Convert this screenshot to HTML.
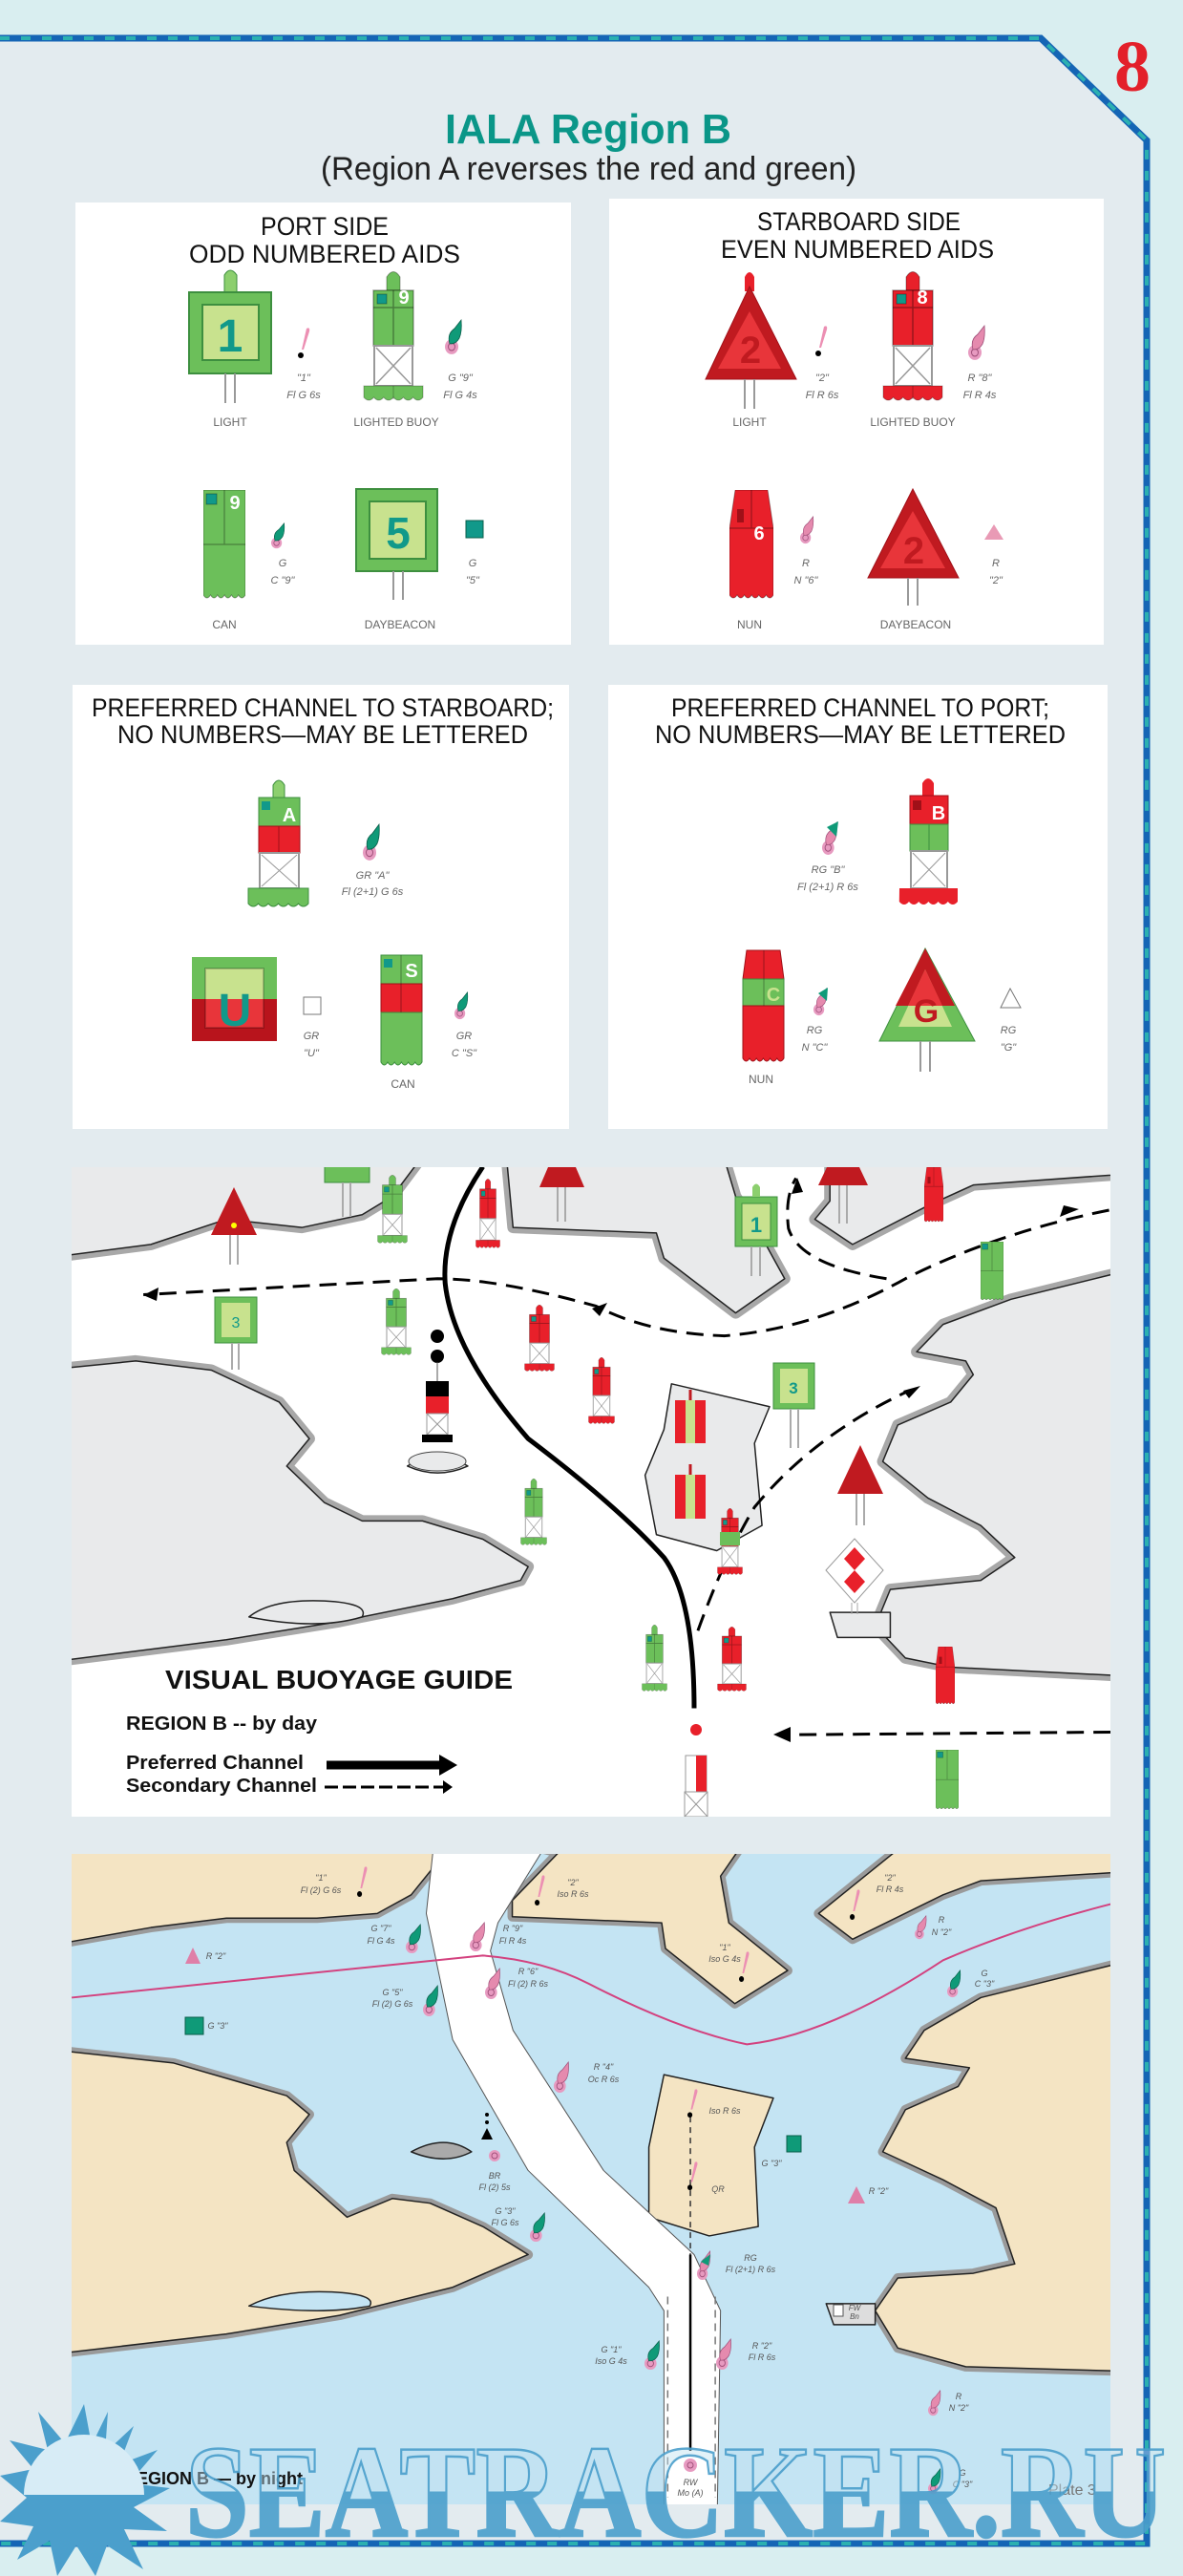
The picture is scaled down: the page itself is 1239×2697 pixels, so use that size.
<!DOCTYPE html>
<html><head><meta charset="utf-8">
<style>
html,body{margin:0;padding:0;background:#d9eef0;}
svg{display:block;}
.nar{font-family:"Liberation Sans Narrow","Liberation Sans",sans-serif;}
.lbl{font-family:"Liberation Sans Narrow","Liberation Sans",sans-serif;font-size:11px;fill:#666;font-style:italic;text-anchor:middle;}
.cap{font-family:"Liberation Sans Narrow","Liberation Sans",sans-serif;font-size:12px;fill:#666;text-anchor:middle;}
.nl{font-family:"Liberation Sans Narrow","Liberation Sans",sans-serif;font-size:9px;fill:#555;font-style:italic;text-anchor:middle;}
</style></head>
<body>
<svg width="1239" height="2697" viewBox="0 0 1239 2697" xmlns="http://www.w3.org/2000/svg">
<defs>
 <symbol id="lb" viewBox="0 0 64 140" preserveAspectRatio="none">
  <path d="M25,22 L25,8 Q32,-3 39,8 L39,22 Z" fill="currentColor" stroke="#0005"/>
  <rect x="11" y="22" width="42" height="58" fill="currentColor" stroke="#0005" stroke-width="1.5"/>
  <path d="M11,40 H53 M32,22 V80" stroke="#0005" stroke-width="1.5"/>
  <rect x="15" y="26" width="10" height="10" fill="#11998a" stroke="#0005"/>
  <rect x="12" y="80" width="40" height="42" fill="#fff" stroke="#999" stroke-width="2"/>
  <path d="M14,82 L50,120 M50,82 L14,120" stroke="#999" stroke-width="1.5"/>
  <path d="M1,122 H63 V134 q-5.2,6 -10.3,0 q-5.2,6 -10.3,0 q-5.2,6 -10.3,0 q-5.2,6 -10.3,0 q-5.2,6 -10.3,0 q-5.2,6 -10.5,0 Z" fill="currentColor" stroke="#0004"/>
  <path d="M32,122 V136" stroke="#0004"/>
 </symbol>
 <symbol id="can" viewBox="0 0 44 117" preserveAspectRatio="none">
  <path d="M0,0 H44 V110 q-3.7,6 -7.3,0 q-3.7,6 -7.3,0 q-3.7,6 -7.3,0 q-3.7,6 -7.3,0 q-3.7,6 -7.3,0 q-3.7,6 -7.5,0 Z" fill="currentColor" stroke="#0005"/>
  <path d="M0,57 H44 M22,0 V57" stroke="#0005" stroke-width="1.2"/>
  <rect x="3" y="4" width="11" height="11" fill="#11998a" stroke="#0005"/>
 </symbol>
 <symbol id="nun" viewBox="0 0 46 117" preserveAspectRatio="none">
  <path d="M6,0 H40 L46,40 V110 q-3.8,6 -7.6,0 q-3.8,6 -7.6,0 q-3.8,6 -7.6,0 q-3.8,6 -7.6,0 q-3.8,6 -7.6,0 q-3.8,6 -8,0 V40 Z" fill="currentColor" stroke="#0005"/>
  <path d="M0,40 H46 M23,0 V40" stroke="#0005" stroke-width="1.2"/>
  <rect x="8" y="20" width="7" height="14" fill="#a01018"/>
 </symbol>
 <symbol id="fishG" viewBox="0 0 20 34" preserveAspectRatio="none">
  <circle cx="7" cy="26" r="7" fill="#e79ac0"/>
  <circle cx="7" cy="26" r="3.5" fill="none" stroke="#a0507a" stroke-width="1"/>
  <path d="M5,23 Q2,14 10,9 L17,1 Q18,12 15,18 Q11,24 5,23 Z" fill="#0f9a78" stroke="#0b5f4b" stroke-width=".8"/>
 </symbol>
 <symbol id="fishR" viewBox="0 0 20 34" preserveAspectRatio="none">
  <circle cx="7" cy="26" r="7" fill="#e79ac0"/>
  <circle cx="7" cy="26" r="3.5" fill="none" stroke="#a0507a" stroke-width="1"/>
  <path d="M5,23 Q2,14 10,9 L17,1 Q18,12 15,18 Q11,24 5,23 Z" fill="#e58aae" stroke="#a0507a" stroke-width=".8"/>
 </symbol>
 <symbol id="excl" viewBox="0 0 14 34" preserveAspectRatio="none">
  <path d="M4,24 L9,2 Q13,0 12,5 L6,24 Z" fill="#ec8fb3"/>
  <circle cx="3" cy="30" r="3" fill="#000"/>
 </symbol>
 <linearGradient id="wm" x1="0" y1="0" x2="0" y2="1">
  <stop offset="0" stop-color="#bfe1f1" stop-opacity="0.5"/>
  <stop offset="0.5" stop-color="#bfe1f1" stop-opacity="0.5"/>
  <stop offset="0.5" stop-color="#4b9fcc"/>
  <stop offset="1" stop-color="#4b9fcc"/>
 </linearGradient>
 <clipPath id="cday"><rect x="75" y="1222" width="1088" height="680"/></clipPath>
 <clipPath id="cnight"><rect x="75" y="1941" width="1088" height="681"/></clipPath>
</defs>

<rect x="0" y="0" width="1239" height="2697" fill="#d9eef0"/>
<path d="M0,40 H1090 L1201,147 V2663 H0 Z" fill="#e3ebef"/>
<path d="M0,40 H1090 L1201,147 V2663 H0" fill="none" stroke="#1565b5" stroke-width="7"/>
<path d="M0,40 H1090 L1201,147 V2663 H0" fill="none" stroke="#2bb0b0" stroke-width="4" stroke-dasharray="10 12"/>
<text x="1186" y="95" font-family="Liberation Serif,serif" font-weight="bold" font-size="76" fill="#e3202a" text-anchor="middle">8</text>

<text x="466" y="150" font-family="Liberation Sans,sans-serif" font-weight="bold" font-size="44" fill="#0a9688" textLength="300" lengthAdjust="spacingAndGlyphs">IALA Region B</text>
<text x="336" y="188" class="nar" font-size="34" fill="#222" textLength="561" lengthAdjust="spacingAndGlyphs">(Region A reverses the red and green)</text>

<rect x="79" y="212" width="519" height="463" fill="#fff"/>
<rect x="638" y="208" width="518" height="467" fill="#fff"/>
<rect x="76" y="717" width="520" height="465" fill="#fff"/>
<rect x="637" y="717" width="523" height="465" fill="#fff"/>

<g class="nar" font-size="27" fill="#111" lengthAdjust="spacingAndGlyphs">
 <text x="273" y="246" textLength="134" lengthAdjust="spacingAndGlyphs">PORT SIDE</text>
 <text x="198" y="275" textLength="284" lengthAdjust="spacingAndGlyphs">ODD NUMBERED AIDS</text>
 <text x="793" y="241" textLength="213" lengthAdjust="spacingAndGlyphs">STARBOARD SIDE</text>
 <text x="755" y="270" textLength="286" lengthAdjust="spacingAndGlyphs">EVEN NUMBERED AIDS</text>
 <text x="96" y="750" textLength="484" lengthAdjust="spacingAndGlyphs">PREFERRED CHANNEL TO STARBOARD;</text>
 <text x="123" y="778" textLength="430" lengthAdjust="spacingAndGlyphs">NO NUMBERS—MAY BE LETTERED</text>
 <text x="703" y="750" textLength="396" lengthAdjust="spacingAndGlyphs">PREFERRED CHANNEL TO PORT;</text>
 <text x="686" y="778" textLength="430" lengthAdjust="spacingAndGlyphs">NO NUMBERS—MAY BE LETTERED</text>
</g>

<!-- PORT panel -->
<path d="M235,306 V288 Q241,278 248,288 V306 Z" fill="#8ccf6e" stroke="#3d8f3f"/>
<rect x="198" y="306" width="86" height="85" fill="#6cbf5a" stroke="#3d8f3f" stroke-width="2"/>
<rect x="212" y="319" width="59" height="58" fill="#c8e28e" stroke="#3d8f3f" stroke-width="2"/>
<text x="241" y="368" font-family="Liberation Sans,sans-serif" font-weight="bold" font-size="48" fill="#11998a" text-anchor="middle">1</text>
<path d="M236,391 V422 M246,391 V422" stroke="#999" stroke-width="2"/>
<text x="241" y="446" class="cap">LIGHT</text>
<use href="#excl" x="312" y="342" width="14" height="34"/>
<text x="318" y="399" class="lbl">"1"</text><text x="318" y="417" class="lbl">Fl G 6s</text>
<use href="#lb" x="380" y="282" width="64" height="140" color="#6cbf5a"/>
<text x="423" y="318" font-family="Liberation Sans,sans-serif" font-weight="bold" font-size="20" fill="#fff" text-anchor="middle">9</text>
<text x="415" y="446" class="cap">LIGHTED BUOY</text>
<use href="#fishG" x="466" y="334" width="20" height="38"/>
<text x="482" y="399" class="lbl">G "9"</text><text x="482" y="417" class="lbl">Fl G 4s</text>
<use href="#can" x="213" y="513" width="44" height="117" color="#6cbf5a"/>
<text x="246" y="533" font-family="Liberation Sans,sans-serif" font-weight="bold" font-size="20" fill="#fff" text-anchor="middle">9</text>
<text x="235" y="658" class="cap">CAN</text>
<use href="#fishG" x="284" y="547" width="16" height="28"/>
<text x="296" y="593" class="lbl">G</text><text x="296" y="611" class="lbl">C "9"</text>
<rect x="373" y="512" width="85" height="86" fill="#6cbf5a" stroke="#3d8f3f" stroke-width="2"/>
<rect x="387" y="525" width="59" height="60" fill="#c8e28e" stroke="#3d8f3f" stroke-width="2"/>
<text x="417" y="574" font-family="Liberation Sans,sans-serif" font-weight="bold" font-size="46" fill="#11998a" text-anchor="middle">5</text>
<path d="M412,598 V628 M422,598 V628" stroke="#999" stroke-width="2"/>
<text x="419" y="658" class="cap">DAYBEACON</text>
<rect x="488" y="545" width="18" height="18" fill="#11998a" stroke="#0b5f4b"/>
<text x="495" y="593" class="lbl">G</text><text x="495" y="611" class="lbl">"5"</text>

<!-- STARBOARD panel -->
<path d="M780,305 V290 Q785,280 790,290 V305 Z" fill="#e8202a"/>
<path d="M785,300 L834,397 L739,397 Z" fill="#c01a20" stroke="#a01018"/>
<path d="M785,326 L818,386 L752,386 Z" fill="#e8353a"/>
<text x="786" y="380" font-family="Liberation Sans,sans-serif" font-weight="bold" font-size="40" fill="#c01a20" text-anchor="middle">2</text>
<path d="M780,397 V428 M790,397 V428" stroke="#999" stroke-width="2"/>
<text x="785" y="446" class="cap">LIGHT</text>
<use href="#excl" x="854" y="340" width="14" height="34"/>
<text x="861" y="399" class="lbl">"2"</text><text x="861" y="417" class="lbl">Fl R 6s</text>
<use href="#lb" x="924" y="282" width="64" height="140" color="#e8202a"/>
<text x="966" y="318" font-family="Liberation Sans,sans-serif" font-weight="bold" font-size="20" fill="#fff" text-anchor="middle">8</text>
<text x="956" y="446" class="cap">LIGHTED BUOY</text>
<use href="#fishR" x="1014" y="340" width="20" height="38"/>
<text x="1026" y="399" class="lbl">R "8"</text><text x="1026" y="417" class="lbl">Fl R 4s</text>
<use href="#nun" x="764" y="513" width="46" height="117" color="#e8202a"/>
<text x="795" y="565" font-family="Liberation Sans,sans-serif" font-weight="bold" font-size="20" fill="#fff" text-anchor="middle">6</text>
<text x="785" y="658" class="cap">NUN</text>
<use href="#fishR" x="838" y="540" width="16" height="30"/>
<text x="844" y="593" class="lbl">R</text><text x="844" y="611" class="lbl">N "6"</text>
<path d="M956,512 L1004,605 L909,605 Z" fill="#c01a20" stroke="#a01018"/>
<path d="M956,535 L990,595 L922,595 Z" fill="#e8353a"/>
<text x="957" y="590" font-family="Liberation Sans,sans-serif" font-weight="bold" font-size="40" fill="#c01a20" text-anchor="middle">2</text>
<path d="M951,605 V634 M961,605 V634" stroke="#999" stroke-width="2"/>
<text x="959" y="658" class="cap">DAYBEACON</text>
<path d="M1041,549 L1051,565 L1031,565 Z" fill="#e99ab5"/>
<text x="1043" y="593" class="lbl">R</text><text x="1043" y="611" class="lbl">"2"</text>

<!-- Preferred channel to starboard -->
<path d="M286,835 V822 Q292,812 298,822 V835 Z" fill="#8ccf6e" stroke="#3d8f3f"/>
<rect x="271" y="835" width="43" height="30" fill="#6cbf5a" stroke="#3d8f3f"/>
<rect x="271" y="865" width="43" height="28" fill="#e8202a" stroke="#a01018"/>
<path d="M292,865 V893" stroke="#a01018"/>
<rect x="274" y="839" width="9" height="9" fill="#11998a"/>
<text x="303" y="860" font-family="Liberation Sans,sans-serif" font-weight="bold" font-size="20" fill="#fff" text-anchor="middle">A</text>
<rect x="272" y="893" width="41" height="37" fill="#fff" stroke="#999" stroke-width="2"/>
<path d="M274,895 L311,928 M311,895 L274,928" stroke="#999"/>
<path d="M260,930 H323 V946 q-5.25,6 -10.5,0 q-5.25,6 -10.5,0 q-5.25,6 -10.5,0 q-5.25,6 -10.5,0 q-5.25,6 -10.5,0 q-5.25,6 -10.5,0 Z" fill="#6cbf5a" stroke="#3d8f3f"/>
<use href="#fishG" x="380" y="862" width="20" height="40"/>
<text x="390" y="920" class="lbl">GR "A"</text><text x="390" y="937" class="lbl">Fl (2+1) G 6s</text>
<rect x="201" y="1002" width="89" height="44" fill="#6cbf5a"/>
<rect x="201" y="1046" width="89" height="44" fill="#b8141c"/>
<rect x="215" y="1014" width="61" height="32" fill="#c8e28e"/>
<rect x="215" y="1046" width="61" height="30" fill="#e8353a"/>
<rect x="215" y="1014" width="61" height="62" fill="none" stroke="#0003" stroke-width="2"/>
<text x="246" y="1074" font-family="Liberation Sans,sans-serif" font-weight="bold" font-size="48" fill="#11998a" text-anchor="middle">U</text>
<rect x="318" y="1044" width="18" height="18" fill="#fff" stroke="#777"/>
<text x="326" y="1088" class="lbl">GR</text><text x="326" y="1106" class="lbl">"U"</text>
<rect x="399" y="1000" width="43" height="30" fill="#6cbf5a" stroke="#3d8f3f"/>
<rect x="399" y="1030" width="43" height="30" fill="#e8202a" stroke="#a01018"/>
<path d="M399,1060 H442 V1112 q-3.6,6 -7.2,0 q-3.6,6 -7.2,0 q-3.6,6 -7.2,0 q-3.6,6 -7.2,0 q-3.6,6 -7.2,0 q-3.6,6 -7,0 Z" fill="#6cbf5a" stroke="#3d8f3f"/>
<path d="M420,1000 V1060" stroke="#0005"/>
<rect x="402" y="1004" width="9" height="9" fill="#11998a"/>
<text x="431" y="1023" font-family="Liberation Sans,sans-serif" font-weight="bold" font-size="20" fill="#fff" text-anchor="middle">S</text>
<text x="422" y="1139" class="cap">CAN</text>
<use href="#fishG" x="476" y="1038" width="16" height="30"/>
<text x="486" y="1088" class="lbl">GR</text><text x="486" y="1106" class="lbl">C "S"</text>

<!-- Preferred channel to port -->
<use href="#fishR" x="861" y="860" width="18" height="36"/>
<path d="M866,866 L878,860 L876,876 Z" fill="#0f9a78"/>
<text x="867" y="914" class="lbl">RG "B"</text><text x="867" y="932" class="lbl">Fl (2+1) R 6s</text>
<path d="M966,833 V820 Q972,810 978,820 V833 Z" fill="#e8202a"/>
<rect x="953" y="833" width="40" height="30" fill="#e8202a" stroke="#a01018"/>
<rect x="953" y="863" width="40" height="28" fill="#6cbf5a" stroke="#3d8f3f"/>
<path d="M973,863 V891" stroke="#3d8f3f"/>
<rect x="956" y="838" width="9" height="10" fill="#a01018"/>
<text x="983" y="858" font-family="Liberation Sans,sans-serif" font-weight="bold" font-size="20" fill="#fff" text-anchor="middle">B</text>
<rect x="954" y="891" width="38" height="39" fill="#fff" stroke="#999" stroke-width="2"/>
<path d="M956,893 L990,928 M990,893 L956,928" stroke="#999"/>
<path d="M942,930 H1003 V944 q-5.1,6 -10.2,0 q-5.1,6 -10.2,0 q-5.1,6 -10.2,0 q-5.1,6 -10.2,0 q-5.1,6 -10.2,0 q-5.1,6 -10.2,0 Z" fill="#e8202a"/>
<path d="M782,995 H817 L821,1025 H778 Z" fill="#e8202a" stroke="#a01018"/>
<rect x="778" y="1025" width="43" height="28" fill="#6cbf5a" stroke="#3d8f3f"/>
<path d="M778,1053 H821 V1108 q-3.6,6 -7.2,0 q-3.6,6 -7.2,0 q-3.6,6 -7.2,0 q-3.6,6 -7.2,0 q-3.6,6 -7.2,0 q-3.6,6 -7,0 Z" fill="#e8202a" stroke="#a01018"/>
<path d="M800,995 V1053" stroke="#0005"/>
<text x="810" y="1048" font-family="Liberation Sans,sans-serif" font-weight="bold" font-size="20" fill="#c8e28e" text-anchor="middle">C</text>
<text x="797" y="1134" class="cap">NUN</text>
<use href="#fishR" x="852" y="1034" width="16" height="30"/>
<path d="M857,1040 L867,1034 L866,1048 Z" fill="#0f9a78"/>
<text x="853" y="1082" class="lbl">RG</text><text x="853" y="1100" class="lbl">N "C"</text>
<path d="M969,993 L1021,1090 L921,1090 Z" fill="#6cbf5a" stroke="#3d8f3f"/>
<path d="M969,993 L1000,1053 L938,1053 Z" fill="#c01a20"/>
<path d="M969,1015 L997,1075 L941,1075 Z" fill="#c8e28e"/>
<path d="M969,1015 L987,1053 L951,1053 Z" fill="#e8353a"/>
<text x="970" y="1070" font-family="Liberation Sans,sans-serif" font-weight="bold" font-size="34" fill="#c01a20" text-anchor="middle">G</text>
<path d="M964,1090 V1122 M974,1090 V1122" stroke="#999" stroke-width="2"/>
<path d="M1058,1035 L1069,1055 L1048,1055 Z" fill="#fff" stroke="#777"/>
<text x="1056" y="1082" class="lbl">RG</text><text x="1056" y="1100" class="lbl">"G"</text>

<!-- DAY CHART -->
<g clip-path="url(#cday)">
<rect x="75" y="1222" width="1088" height="680" fill="#fff"/>
<g transform="translate(0,1200) scale(0.7902,0.4785)" fill="#e9eaeb" stroke-linejoin="round">
 <g stroke="#a8a8a8" stroke-width="12">
 <path vector-effect="non-scaling-stroke" d="M60,0 L570,0 L520,110 L480,150 L400,178 L300,160 L200,215 L60,245 Z"/>
 <path vector-effect="non-scaling-stroke" d="M670,0 L955,0 L975,110 L1000,170 L1040,290 L975,365 L880,245 L870,190 L680,178 Z"/>
 <path vector-effect="non-scaling-stroke" d="M1100,0 L1500,0 L1500,60 L1290,85 L1230,130 L1130,215 L1080,160 L1100,120 Z"/>
 <path vector-effect="non-scaling-stroke" d="M1500,270 L1340,335 L1250,390 L1215,450 L1280,470 L1290,500 L1260,560 L1190,610 L1170,690 L1230,770 L1300,830 L1345,900 L1300,950 L1180,970 L1160,1050 L1200,1120 L1260,1140 L1500,1160 Z"/>
 <path vector-effect="non-scaling-stroke" d="M60,490 L180,470 L280,490 L370,560 L410,640 L380,700 L430,780 L480,820 L560,820 L640,860 L700,920 L690,950 L600,990 L450,1040 L300,1080 L60,1130 Z"/>
 </g>
 <g stroke="#222" stroke-width="1.5">
 <path vector-effect="non-scaling-stroke" d="M60,0 L570,0 L520,110 L480,150 L400,178 L300,160 L200,215 L60,245 Z"/>
 <path vector-effect="non-scaling-stroke" d="M670,0 L955,0 L975,110 L1000,170 L1040,290 L975,365 L880,245 L870,190 L680,178 Z"/>
 <path vector-effect="non-scaling-stroke" d="M1100,0 L1500,0 L1500,60 L1290,85 L1230,130 L1130,215 L1080,160 L1100,120 Z"/>
 <path vector-effect="non-scaling-stroke" d="M1500,270 L1340,335 L1250,390 L1215,450 L1280,470 L1290,500 L1260,560 L1190,610 L1170,690 L1230,770 L1300,830 L1345,900 L1300,950 L1180,970 L1160,1050 L1200,1120 L1260,1140 L1500,1160 Z"/>
 <path vector-effect="non-scaling-stroke" d="M60,490 L180,470 L280,490 L370,560 L410,640 L380,700 L430,780 L480,820 L560,820 L640,860 L700,920 L690,950 L600,990 L450,1040 L300,1080 L60,1130 Z"/>
 <path vector-effect="non-scaling-stroke" d="M890,520 L1020,570 L1000,650 L1010,830 L950,885 L870,850 L855,720 L880,620 Z"/>
 <path vector-effect="non-scaling-stroke" d="M540,700 Q580,660 620,700 Q580,730 540,700 Z"/>
 <path vector-effect="non-scaling-stroke" d="M330,1030 Q360,990 430,995 Q490,1000 480,1030 Q420,1060 330,1030 Z"/>
 <path vector-effect="non-scaling-stroke" d="M1100,1020 H1180 V1075 H1110 Z"/>
 </g>
 <g fill="none" stroke="#000">
 <path vector-effect="non-scaling-stroke" stroke-width="5" d="M640,45 Q585,180 590,300 Q600,450 700,640 Q820,790 880,900 Q920,990 920,1230"/>
 <path vector-effect="non-scaling-stroke" stroke-width="3" stroke-dasharray="18 10" d="M1470,140 Q1320,190 1200,290 Q1080,400 960,415 Q860,410 790,350 Q660,290 580,290 L190,325"/>
 <path vector-effect="non-scaling-stroke" stroke-width="3" stroke-dasharray="18 10" d="M1175,290 Q1060,260 1045,180 Q1040,110 1055,70"/>
 <path vector-effect="non-scaling-stroke" stroke-width="3" stroke-dasharray="18 10" d="M925,1060 Q960,900 1000,790 Q1080,630 1205,535"/>
 <path vector-effect="non-scaling-stroke" stroke-width="3" stroke-dasharray="18 10" d="M1472,1282 L1040,1288"/>
 </g>
</g>
<path d="M150,1356 L166,1348 L164,1362 Z" fill="#000"/>
<path d="M620,1370 L636,1364 L628,1378 Z" fill="#000"/>
<path d="M835,1233 L829,1250 L841,1248 Z" fill="#000"/>
<path d="M1130,1266 L1110,1274 L1114,1262 Z" fill="#000"/>
<path d="M964,1451 L946,1456 L952,1464 Z" fill="#000"/>
<path d="M810,1816 L828,1808 L828,1824 Z" fill="#000"/>
<path d="M245,1243 L269,1293 L221,1293 Z" fill="#c01a20"/><circle cx="245" cy="1283" r="3" fill="#ff0"/>
<path d="M241,1293 V1324 M249,1293 V1324" stroke="#aaa" stroke-width="2"/>
<rect x="340" y="1208" width="47" height="30" fill="#6cbf5a" stroke="#3d8f3f"/>
<path d="M359,1238 V1274 M367,1238 V1274" stroke="#aaa" stroke-width="2"/>
<use href="#lb" x="395" y="1229" width="32" height="74" color="#6cbf5a"/>
<use href="#lb" x="498" y="1233" width="26" height="75" color="#e8202a"/>
<path d="M574,1222 H603 L612,1243 H565 Z" fill="#c01a20"/>
<path d="M584,1243 V1279 M592,1243 V1279" stroke="#aaa" stroke-width="2"/>
<rect x="770" y="1253" width="44" height="52" fill="#6cbf5a" stroke="#3d8f3f"/>
<rect x="777" y="1260" width="30" height="38" fill="#c8e28e" stroke="#3d8f3f"/>
<text x="792" y="1290" font-family="Liberation Sans,sans-serif" font-weight="bold" font-size="22" fill="#11998a" text-anchor="middle">1</text>
<path d="M788,1253 V1243 Q792,1236 796,1243 V1253 Z" fill="#8ccf6e"/>
<path d="M787,1305 V1336 M796,1305 V1336" stroke="#aaa" stroke-width="2"/>
<path d="M866,1222 H900 L909,1241 H857 Z" fill="#c01a20"/>
<path d="M879,1241 V1281 M887,1241 V1281" stroke="#aaa" stroke-width="2"/>
<use href="#nun" x="968" y="1222" width="20" height="59" color="#e8202a"/>
<use href="#can" x="1027" y="1300" width="24" height="63" color="#6cbf5a"/>
<rect x="225" y="1358" width="44" height="48" fill="#6cbf5a" stroke="#3d8f3f"/>
<rect x="232" y="1364" width="30" height="36" fill="#c8e28e"/>
<text x="247" y="1390" font-family="Liberation Sans,sans-serif" font-size="16" fill="#11998a" text-anchor="middle">3</text>
<path d="M243,1406 V1434 M250,1406 V1434" stroke="#aaa" stroke-width="2"/>
<use href="#lb" x="399" y="1348" width="32" height="72" color="#6cbf5a"/>
<circle cx="458" cy="1399" r="7" fill="#000"/><circle cx="458" cy="1420" r="7" fill="#000"/>
<path d="M458,1426 V1446" stroke="#555"/>
<rect x="446" y="1446" width="24" height="16" fill="#000"/>
<rect x="446" y="1462" width="24" height="18" fill="#e8202a"/>
<rect x="447" y="1480" width="22" height="22" fill="#fff" stroke="#999"/>
<path d="M447,1480 L469,1502 M469,1480 L447,1502" stroke="#999"/>
<rect x="442" y="1502" width="32" height="8" fill="#000"/>
<ellipse cx="458" cy="1530" rx="30" ry="10" fill="#e9eaeb" stroke="#444"/>
<use href="#lb" x="549" y="1365" width="32" height="72" color="#e8202a"/>
<use href="#lb" x="616" y="1420" width="28" height="72" color="#e8202a"/>
<rect x="810" y="1427" width="43" height="48" fill="#6cbf5a" stroke="#3d8f3f"/>
<rect x="817" y="1433" width="29" height="36" fill="#c8e28e"/>
<text x="831" y="1459" font-family="Liberation Sans,sans-serif" font-weight="bold" font-size="17" fill="#11998a" text-anchor="middle">3</text>
<path d="M828,1475 V1516 M836,1475 V1516" stroke="#aaa" stroke-width="2"/>
<rect x="707" y="1466" width="32" height="45" fill="#e8202a"/><rect x="718" y="1466" width="10" height="45" fill="#c8e28e"/>
<path d="M723,1455 V1466" stroke="#c01a20" stroke-width="3"/>
<rect x="707" y="1544" width="32" height="46" fill="#e8202a"/><rect x="718" y="1544" width="10" height="46" fill="#c8e28e"/>
<path d="M723,1533 V1544" stroke="#c01a20" stroke-width="3"/>
<use href="#lb" x="751" y="1578" width="27" height="72" color="#e8202a"/>
<rect x="754" y="1604" width="21" height="14" fill="#6cbf5a"/>
<path d="M901,1513 L925,1564 L877,1564 Z" fill="#c01a20"/>
<path d="M897,1564 V1597 M905,1564 V1597" stroke="#aaa" stroke-width="2"/>
<path d="M895,1611 L925,1644 L895,1678 L865,1644 Z" fill="#fff" stroke="#999"/>
<path d="M895,1620 L906,1632 L895,1644 L884,1632 Z M895,1644 L906,1656 L895,1668 L884,1656 Z" fill="#e8202a"/>
<path d="M892,1678 V1690 M898,1678 V1690" stroke="#aaa"/>
<use href="#lb" x="545" y="1547" width="28" height="72" color="#6cbf5a"/>
<use href="#lb" x="672" y="1700" width="27" height="72" color="#6cbf5a"/>
<use href="#lb" x="751" y="1702" width="31" height="70" color="#e8202a"/>
<use href="#nun" x="980" y="1724" width="20" height="62" color="#e8202a"/>
<use href="#can" x="980" y="1832" width="24" height="64" color="#6cbf5a"/>
<circle cx="729" cy="1811" r="6" fill="#e8202a"/>
<rect x="718" y="1838" width="22" height="38" fill="#fff" stroke="#999"/>
<rect x="729" y="1838" width="11" height="38" fill="#e8202a"/>
<rect x="717" y="1876" width="24" height="26" fill="#fff" stroke="#999"/>
<path d="M717,1876 L741,1902 M741,1876 L717,1902" stroke="#999"/>
<text x="173" y="1768" font-family="Liberation Sans,sans-serif" font-weight="bold" font-size="28" fill="#111" textLength="364" lengthAdjust="spacingAndGlyphs">VISUAL BUOYAGE GUIDE</text>
<text x="132" y="1811" font-family="Liberation Sans,sans-serif" font-weight="bold" font-size="20" fill="#111" textLength="200" lengthAdjust="spacingAndGlyphs">REGION B -- by day</text>
<text x="132" y="1852" font-family="Liberation Sans,sans-serif" font-weight="bold" font-size="20" fill="#111" textLength="186" lengthAdjust="spacingAndGlyphs">Preferred Channel</text>
<text x="132" y="1876" font-family="Liberation Sans,sans-serif" font-weight="bold" font-size="20" fill="#111" textLength="200" lengthAdjust="spacingAndGlyphs">Secondary Channel</text>
<path d="M342,1848 H462" stroke="#000" stroke-width="9"/>
<path d="M460,1837 L479,1848 L460,1859 Z" fill="#000"/>
<path d="M340,1871 H466" stroke="#000" stroke-width="3" stroke-dasharray="14 5"/>
<path d="M464,1864 L474,1871 L464,1878 Z" fill="#000"/>
</g>

<!-- NIGHT CHART -->
<g clip-path="url(#cnight)">
<rect x="75" y="1941" width="1088" height="681" fill="#c4e4f3"/>
<g transform="translate(0,1930) scale(0.7902,0.4892)" stroke-linejoin="round">
 <g fill="#f4e4c3" stroke="#9a9a9a" stroke-width="10">
 <path vector-effect="non-scaling-stroke" d="M60,0 L600,0 L545,110 L500,150 L420,160 L300,160 L200,180 L60,220 Z"/>
 <path vector-effect="non-scaling-stroke" d="M690,0 L985,0 L955,70 L966,170 L1044,272 L974,343 L882,225 L877,170 L679,157 L679,122 L740,20 Z"/>
 <path vector-effect="non-scaling-stroke" d="M1200,0 L1500,0 L1500,60 L1300,80 L1250,110 L1130,205 L1085,150 Z"/>
 <path vector-effect="non-scaling-stroke" d="M1500,250 L1300,330 L1225,400 L1200,460 L1285,480 L1270,520 L1200,570 L1170,660 L1250,720 L1320,780 L1345,900 L1290,920 L1190,930 L1160,1000 L1190,1080 L1280,1120 L1500,1130 Z"/>
 <path vector-effect="non-scaling-stroke" d="M60,440 L230,470 L380,540 L410,580 L380,640 L390,700 L460,800 L520,760 L570,770 L640,820 L700,880 L600,950 L450,1010 L300,1050 L60,1095 Z"/>
 </g>
 <g fill="#f4e4c3" stroke="#222" stroke-width="1.5">
 <path vector-effect="non-scaling-stroke" d="M60,0 L600,0 L545,110 L500,150 L420,160 L300,160 L200,180 L60,220 Z"/>
 <path vector-effect="non-scaling-stroke" d="M690,0 L985,0 L955,70 L966,170 L1044,272 L974,343 L882,225 L877,170 L679,157 L679,122 L740,20 Z"/>
 <path vector-effect="non-scaling-stroke" d="M1200,0 L1500,0 L1500,60 L1300,80 L1250,110 L1130,205 L1085,150 Z"/>
 <path vector-effect="non-scaling-stroke" d="M1500,250 L1300,330 L1225,400 L1200,460 L1285,480 L1270,520 L1200,570 L1170,660 L1250,720 L1320,780 L1345,900 L1290,920 L1190,930 L1160,1000 L1190,1080 L1280,1120 L1500,1130 Z"/>
 <path vector-effect="non-scaling-stroke" d="M60,440 L230,470 L380,540 L410,580 L380,640 L390,700 L460,800 L520,760 L570,770 L640,820 L700,880 L600,950 L450,1010 L300,1050 L60,1095 Z"/>
 <path vector-effect="non-scaling-stroke" d="M880,495 L1025,545 L1000,650 L1005,820 L940,840 L860,800 L860,650 Z"/>
 <path vector-effect="non-scaling-stroke" fill="#c4e4f3" d="M330,990 Q370,955 440,960 Q500,965 490,990 Q430,1010 330,990 Z"/>
 <path vector-effect="non-scaling-stroke" fill="#aaa" d="M545,660 Q590,620 625,660 Q590,690 545,660 Z"/>
 <path vector-effect="non-scaling-stroke" fill="#ddd" d="M1095,985 H1160 V1030 H1105 Z"/>
 </g>
 <path vector-effect="non-scaling-stroke" d="M575,0 L725,0 L660,170 L650,230 L680,400 L800,700 L920,880 L955,1000 L950,1500 L880,1500 L880,1000 L860,950 L700,700 L600,420 L565,150 Z" fill="#fff" stroke="#555" stroke-width="1"/>
 <path vector-effect="non-scaling-stroke" d="M95,330 L640,240 Q720,250 780,300 Q900,400 990,430 Q1100,410 1250,250 Q1350,180 1472,130" fill="none" stroke="#d3427f" stroke-width="2"/>
 <path vector-effect="non-scaling-stroke" d="M915,585 V880" stroke="#333" stroke-width="1.5" stroke-dasharray="6 5"/>
 <path vector-effect="non-scaling-stroke" d="M915,880 V1300" stroke="#000" stroke-width="2.5"/>
 <path vector-effect="non-scaling-stroke" d="M885,970 V1400 M948,970 V1400" stroke="#777" stroke-width="1.5" stroke-dasharray="8 6"/>
</g>
<use href="#excl" x="374" y="1953" width="12" height="34"/>
<text x="336" y="1969" class="nl">"1"</text><text x="336" y="1982" class="nl">Fl (2) G 6s</text>
<use href="#excl" x="560" y="1962" width="12" height="34"/>
<text x="600" y="1974" class="nl">"2"</text><text x="600" y="1986" class="nl">Iso R 6s</text>
<use href="#excl" x="890" y="1977" width="12" height="34"/>
<text x="932" y="1969" class="nl">"2"</text><text x="932" y="1981" class="nl">Fl R 4s</text>
<use href="#fishR" x="958" y="2005" width="14" height="26"/>
<text x="986" y="2013" class="nl">R</text><text x="986" y="2026" class="nl">N "2"</text>
<use href="#excl" x="774" y="2042" width="12" height="34"/>
<text x="759" y="2042" class="nl">"1"</text><text x="759" y="2054" class="nl">Iso G 4s</text>
<use href="#fishG" x="425" y="2014" width="18" height="32"/>
<text x="399" y="2022" class="nl">G "7"</text><text x="399" y="2035" class="nl">Fl G 4s</text>
<use href="#fishR" x="492" y="2012" width="18" height="32"/>
<text x="537" y="2022" class="nl">R "9"</text><text x="537" y="2035" class="nl">Fl R 4s</text>
<path d="M202,2039 L210,2056 L194,2056 Z" fill="#df7fa8"/>
<text x="226" y="2051" class="nl">R "2"</text>
<use href="#fishR" x="508" y="2060" width="18" height="34"/>
<text x="553" y="2067" class="nl">R "6"</text><text x="553" y="2080" class="nl">Fl (2) R 6s</text>
<use href="#fishG" x="443" y="2078" width="18" height="34"/>
<text x="411" y="2089" class="nl">G "5"</text><text x="411" y="2101" class="nl">Fl (2) G 6s</text>
<rect x="194" y="2112" width="19" height="18" fill="#0f9a78" stroke="#0b5f4b"/>
<text x="228" y="2124" class="nl">G "3"</text>
<use href="#fishG" x="992" y="2062" width="16" height="30"/>
<text x="1031" y="2069" class="nl">G</text><text x="1031" y="2080" class="nl">C "3"</text>
<use href="#fishR" x="580" y="2158" width="18" height="34"/>
<text x="632" y="2167" class="nl">R "4"</text><text x="632" y="2180" class="nl">Oc R 6s</text>
<use href="#excl" x="720" y="2186" width="12" height="32"/>
<text x="759" y="2213" class="nl">Iso R 6s</text>
<use href="#excl" x="720" y="2262" width="12" height="32"/>
<text x="752" y="2295" class="nl">QR</text>
<rect x="824" y="2236" width="15" height="17" fill="#0f9a78" stroke="#0b5f4b"/>
<text x="808" y="2268" class="nl">G "3"</text>
<path d="M897,2289 L906,2307 L888,2307 Z" fill="#df7fa8"/>
<text x="920" y="2297" class="nl">R "2"</text>
<circle cx="510" cy="2214" r="2" fill="#000"/><circle cx="510" cy="2222" r="2" fill="#000"/>
<path d="M510,2228 L516,2240 L504,2240 Z" fill="#000"/>
<circle cx="518" cy="2257" r="6" fill="#e79ac0"/><circle cx="518" cy="2257" r="3" fill="none" stroke="#a0507a"/>
<text x="518" y="2281" class="nl">BR</text><text x="518" y="2293" class="nl">Fl (2) 5s</text>
<use href="#fishG" x="555" y="2316" width="18" height="32"/>
<text x="529" y="2318" class="nl">G "3"</text><text x="529" y="2330" class="nl">Fl G 6s</text>
<use href="#fishR" x="730" y="2356" width="16" height="32"/>
<path d="M734,2368 L744,2360 L742,2372 Z" fill="#0f9a78"/>
<text x="786" y="2367" class="nl">RG</text><text x="786" y="2379" class="nl">Fl (2+1) R 6s</text>
<text x="895" y="2419" class="nl" style="font-size:8px">FW</text><text x="895" y="2428" class="nl" style="font-size:8px">Bn</text>
<rect x="873" y="2413" width="10" height="12" fill="#fff" stroke="#555"/>
<use href="#fishG" x="675" y="2450" width="18" height="32"/>
<text x="640" y="2463" class="nl">G "1"</text><text x="640" y="2475" class="nl">Iso G 4s</text>
<use href="#fishR" x="750" y="2448" width="18" height="34"/>
<text x="798" y="2459" class="nl">R "2"</text><text x="798" y="2471" class="nl">Fl R 6s</text>
<use href="#fishR" x="972" y="2502" width="15" height="28"/>
<text x="1004" y="2512" class="nl">R</text><text x="1004" y="2524" class="nl">N "2"</text>
<circle cx="723" cy="2581" r="7" fill="#e79ac0"/><circle cx="723" cy="2581" r="3" fill="none" stroke="#a0507a"/>
<text x="723" y="2602" class="nl">RW</text><text x="723" y="2613" class="nl">Mo (A)</text>
<use href="#fishG" x="972" y="2584" width="15" height="28"/>
<text x="1008" y="2592" class="nl">G</text><text x="1008" y="2604" class="nl">C "3"</text>
<text x="130" y="2601" font-family="Liberation Sans,sans-serif" font-weight="bold" font-size="18" fill="#111">REGION B — by night</text>
<text x="1098" y="2612" font-family="Liberation Sans,sans-serif" font-size="16" fill="#777">Plate 3</text>
</g>

<polygon fill="#4b9fcc" points="88,2517 96,2560 113,2525 110,2568 140,2540 125,2580 165,2565 135,2600 178,2605 140,2625 175,2650 130,2648 150,2690 112,2665 100,2697 80,2665 60,2697 52,2660 18,2680 35,2645 0,2640 28,2615 0,2592 35,2585 10,2555 50,2565 40,2525 68,2558"/>
<path d="M25,2612 A63,63 0 0 1 151,2612 Z" fill="#d7ecf6"/>
<text x="194" y="2655" font-family="Liberation Serif,serif" font-weight="bold" font-size="138" fill="url(#wm)" stroke="#4b9fcc" stroke-width="2.5" textLength="1027" lengthAdjust="spacingAndGlyphs" opacity="0.9">SEATRACKER.RU</text>
</svg>
</body></html>
